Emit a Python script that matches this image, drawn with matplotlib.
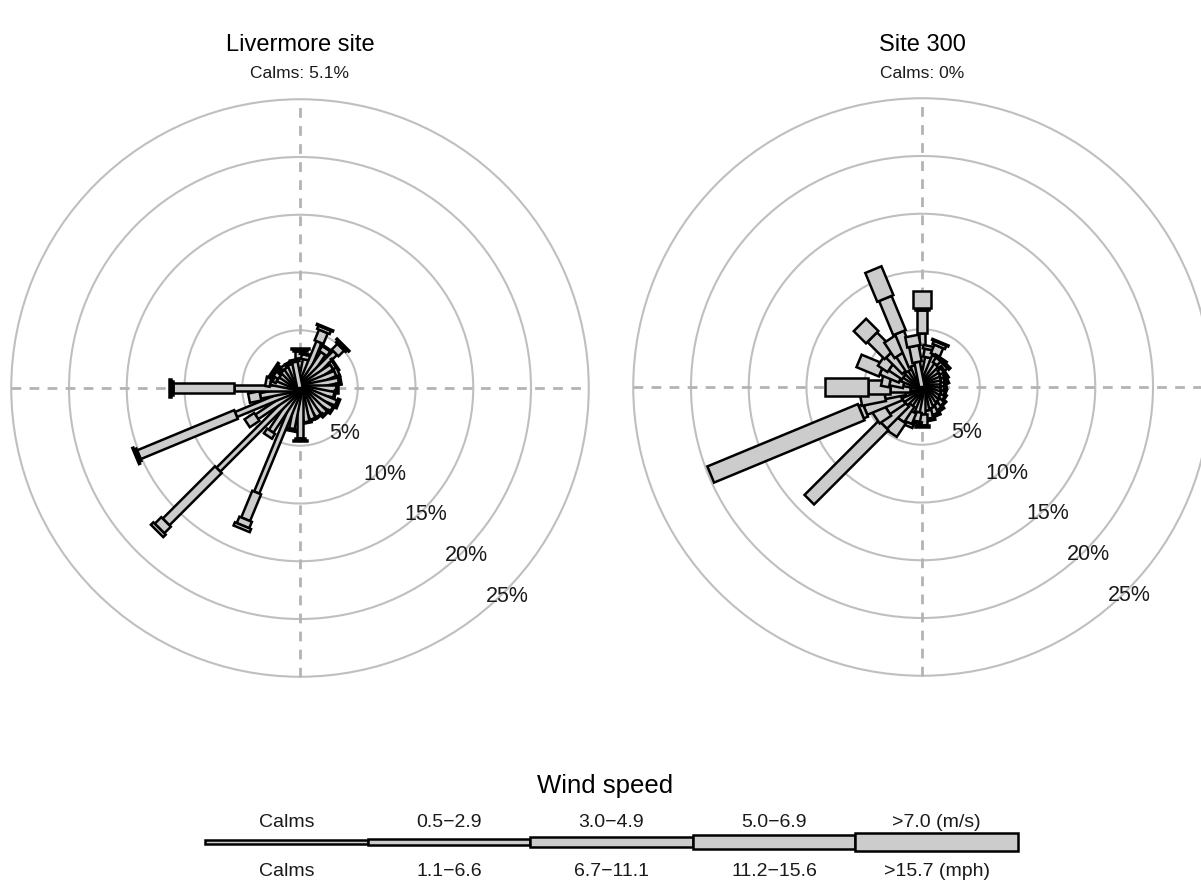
import numpy as np
import matplotlib
matplotlib.use("Agg")
import matplotlib.pyplot as plt
from matplotlib.patches import Polygon, Circle, Rectangle

plt.rcParams['font.family'] = ['Liberation Sans', 'DejaVu Sans']

# 32 direction sectors, degrees clockwise from north
directions = np.arange(32) * 11.25

# Livermore site, % of hours per direction and speed class
liv_b1 = [2.6, 2.5, 4.3, 3.6, 4.3, 3.3, 3.3, 3.4, 3.1, 3.0, 3.4, 3.3, 3.1, 2.9, 2.9, 3.0,
          4.3, 3.6, 9.8, 4.5, 10.0, 4.5, 6.0, 3.5, 5.7, 2.6, 2.1, 2.0, 2.1, 2.1, 2.2, 2.3]
liv_b2 = [0.6, 0.4, 1.0, 0.5, 0.7, 0.3, 0.3, 0.2, 0.2, 0.1, 0.2, 0.1, 0.1, 0.1, 0.1, 0.1,
          0.2, 0.2, 2.5, 0.5, 6.4, 1.0, 9.1, 1.0, 5.3, 0.4, 0.3, 0.5, 0.2, 0.3, 0.2, 0.2]
liv_b3 = [0.2, 0.1, 0.3, 0.1, 0.2, 0.1, 0.0, 0.0, 0.0, 0.0, 0.0, 0.0, 0.0, 0.0, 0.0, 0.0,
          0.1, 0.0, 0.6, 0.0, 0.8, 0.0, 0.2, 0.0, 0.2, 0.0, 0.0, 0.2, 0.0, 0.0, 0.0, 0.0]
liv_b4 = [0.1, 0.0, 0.1, 0.0, 0.1, 0.0, 0.0, 0.0, 0.0, 0.0, 0.0, 0.0, 0.0, 0.0, 0.0, 0.0,
          0.0, 0.0, 0.3, 0.0, 0.3, 0.0, 0.1, 0.0, 0.1, 0.0, 0.0, 0.1, 0.0, 0.0, 0.0, 0.0]
liv_calms = 5.1

# Site 300
s300_b1 = [4.7, 2.6, 3.0, 2.3, 2.2, 1.9, 1.8, 1.7, 1.6, 1.6, 1.7, 1.7, 1.8, 1.9, 2.0, 2.1,
           2.3, 2.2, 2.3, 1.8, 2.0, 2.0, 2.0, 1.5, 1.0, 1.6, 2.0, 1.8, 2.0, 1.8, 2.0, 2.2]
s300_b2 = [2.0, 0.7, 0.8, 0.5, 0.5, 0.4, 0.4, 0.3, 0.3, 0.3, 0.3, 0.4, 0.5, 0.5, 0.6, 0.7,
           1.0, 0.8, 1.0, 1.6, 2.7, 1.6, 3.3, 1.8, 1.8, 1.2, 1.8, 1.4, 2.0, 1.6, 3.1, 1.4]
s300_b3 = [0.1, 0.3, 0.3, 0.2, 0.2, 0.1, 0.1, 0.1, 0.1, 0.1, 0.1, 0.1, 0.1, 0.2, 0.2, 0.2,
           0.2, 0.2, 0.3, 1.4, 9.1, 1.2, 0.4, 2.1, 1.9, 0.7, 2.1, 1.0, 2.1, 1.6, 3.2, 0.9]
s300_b4 = [1.5, 0.0, 0.1, 0.0, 0.0, 0.0, 0.0, 0.0, 0.0, 0.0, 0.0, 0.0, 0.0, 0.0, 0.0, 0.0,
           0.0, 0.0, 0.0, 0.0, 0.0, 0.0, 14.1, 0.0, 3.7, 0.0, 0.0, 0.0, 1.5, 0.0, 2.7, 0.0]
s300_calms = 0

ring_pct = [5, 10, 15, 20, 25]
speed_ms = ['Calms', '0.5\u22122.9', '3.0\u22124.9', '5.0\u22126.9', '>7.0 (m/s)']
speed_mph = ['Calms', '1.1\u22126.6', '6.7\u221211.1', '11.2\u221215.6', '>15.7 (mph)']

W, H = 1201, 895
PX = 11.55                   # pixels per percent on the roses
EDGE = 1.8                   # outline width, points
EDGE_PX = EDGE * 100 / 72
paddle_px = [8, 12, 16, 20]  # paddle widths per speed class
legend_px = [6, 8.5, 12, 16, 20]
FILL = '#cccccc'
GRID = '#bfbfbf'
TXT = '#1a1a1a'

fig = plt.figure(figsize=(W / 100, H / 100), dpi=100)


def rose_axes(cx, cy, R=26):
    half = R * PX
    ax = fig.add_axes([(cx - half) / W, (H - cy - half) / H, 2 * half / W, 2 * half / H])
    ax.set_xlim(-R, R)
    ax.set_ylim(-R, R)
    ax.set_axis_off()
    return ax


def draw_rose(ax, bins):
    for r in ring_pct:
        ax.add_patch(Circle((0, 0), r, fill=False, ec=GRID, lw=1.5, zorder=1))
    rmax = ring_pct[-1]
    ax.plot([-rmax, rmax], [0, 0], ls=(0, (3.5, 3)), color='#b3b3b3', lw=2, zorder=1)
    ax.plot([0, 0], [-rmax, rmax], ls=(0, (3.5, 3)), color='#b3b3b3', lw=2, zorder=1)
    a = np.deg2rad(135)
    for r in ring_pct:
        ax.text(r * np.sin(a) + 0.3, r * np.cos(a) - 0.3, f'{r}%', ha='center', va='center',
                fontsize=15.5, color=TXT, zorder=5)
    for i, d in enumerate(directions):
        th = np.deg2rad(d)
        u = np.array([np.sin(th), np.cos(th)])
        p = np.array([np.cos(th), -np.sin(th)])
        r0 = 0.0
        for k in range(4):
            v = bins[k][i]
            if v <= 0:
                continue
            hw = (paddle_px[k] - EDGE_PX) / PX / 2
            pts = [r0 * u + hw * p, (r0 + v) * u + hw * p,
                   (r0 + v) * u - hw * p, r0 * u - hw * p]
            ax.add_patch(Polygon(pts, closed=True, fc=FILL, ec='black', lw=EDGE,
                                 joinstyle='miter', zorder=3))
            r0 += v


ax1 = rose_axes(300, 389)
draw_rose(ax1, [liv_b1, liv_b2, liv_b3, liv_b4])
ax2 = rose_axes(922, 388)
draw_rose(ax2, [s300_b1, s300_b2, s300_b3, s300_b4])

fig.text(300 / W, 1 - 45 / H, 'Livermore site', ha='center', va='center', fontsize=17)
fig.text(300 / W, 1 - 73 / H, f'Calms: {liv_calms}%', ha='center', va='center', fontsize=12.5, color=TXT)
fig.text(922 / W, 1 - 45 / H, 'Site 300', ha='center', va='center', fontsize=17)
fig.text(922 / W, 1 - 73 / H, f'Calms: {s300_calms}%', ha='center', va='center', fontsize=12.5, color=TXT)

# legend, laid out in pixel units
lg = fig.add_axes([0, 0, 1, 1], zorder=-1)
lg.set_xlim(0, W)
lg.set_ylim(H, 0)
lg.set_axis_off()
lg.text(605, 786, 'Wind speed', ha='center', va='center', fontsize=18.5)
x0, seg, yc = 205, 162.6, 843
for k in range(5):
    h = legend_px[k] - EDGE_PX
    lg.add_patch(Rectangle((x0 + k * seg, yc - h / 2), seg, h, fc=FILL, ec='black', lw=EDGE))
    xc = x0 + (k + 0.5) * seg
    lg.text(xc, 823, speed_ms[k], ha='center', va='center', fontsize=14, color=TXT)
    lg.text(xc, 872, speed_mph[k], ha='center', va='center', fontsize=14, color=TXT)

fig.savefig('out.png', dpi=100)
